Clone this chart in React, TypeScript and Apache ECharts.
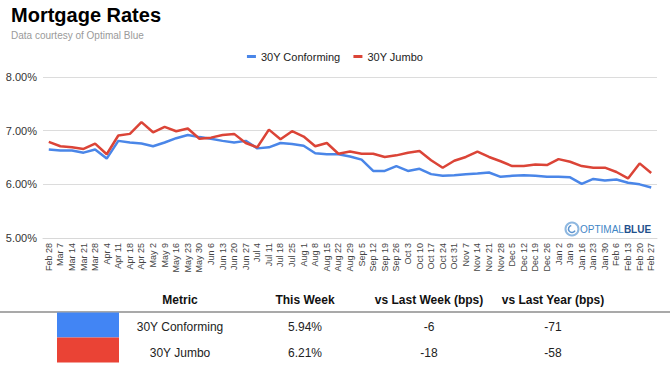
import React, { useEffect, useRef } from "react";
import * as echarts from "echarts";

const categories = [
  "Feb 28", "Mar 7", "Mar 14", "Mar 21", "Mar 28", "Apr 4", "Apr 11", "Apr 18", "Apr 25",
  "May 2", "May 9", "May 16", "May 23", "May 30", "Jun 6", "Jun 13", "Jun 20", "Jun 27",
  "Jul 4", "Jul 11", "Jul 18", "Jul 25", "Aug 1", "Aug 8", "Aug 15", "Aug 22", "Aug 29",
  "Sep 5", "Sep 12", "Sep 19", "Sep 26", "Oct 3", "Oct 10", "Oct 17", "Oct 24", "Oct 31",
  "Nov 7", "Nov 14", "Nov 21", "Nov 28", "Dec 5", "Dec 12", "Dec 19", "Dec 26",
  "Jan 2", "Jan 9", "Jan 16", "Jan 23", "Jan 30", "Feb 6", "Feb 13", "Feb 20", "Feb 27",
];

const conforming = [
  6.65, 6.63, 6.63, 6.59, 6.65, 6.48, 6.81, 6.78, 6.76, 6.71, 6.78, 6.86, 6.92, 6.88,
  6.85, 6.81, 6.78, 6.81, 6.67, 6.69, 6.77, 6.75, 6.72, 6.58, 6.56, 6.56, 6.52, 6.46,
  6.25, 6.25, 6.34, 6.25, 6.29, 6.19, 6.16, 6.17, 6.19, 6.2, 6.22, 6.14, 6.16, 6.17,
  6.16, 6.14, 6.14, 6.13, 6.01, 6.1, 6.07, 6.09, 6.03, 6.0, 5.94,
];

const jumbo = [
  6.79, 6.71, 6.69, 6.66, 6.76, 6.56, 6.91, 6.94, 7.16, 6.97, 7.07, 6.99, 7.04, 6.85,
  6.87, 6.92, 6.94, 6.77, 6.69, 7.02, 6.84, 6.99, 6.89, 6.71, 6.77, 6.57, 6.61, 6.57,
  6.57, 6.51, 6.54, 6.59, 6.62, 6.45, 6.31, 6.44, 6.51, 6.61, 6.51, 6.43, 6.34, 6.34,
  6.37, 6.36, 6.47, 6.42, 6.34, 6.31, 6.31, 6.23, 6.11, 6.39, 6.21,
];

const yTicks = [5, 6, 7, 8];

const tableHeaders = ["Metric", "This Week", "vs Last Week (bps)", "vs Last Year (bps)"];
const tableMetrics = ["30Y Conforming", "30Y Jumbo"];
const tableThisWeek = ["5.94%", "6.21%"];
const tableVsLastWeek = ["-6", "-18"];
const tableVsLastYear = ["-71", "-58"];

const BLUE = "#4a86e8";
const RED = "#db4437";
const SWATCH = ["#4285f4", "#ea4335"];
const FONT = "Liberation Sans, Arial, sans-serif";

export default function App() {
  const ref = useRef<HTMLDivElement>(null);

  useEffect(() => {
    if (!ref.current) return;
    const chart = echarts.init(ref.current, undefined, { renderer: "svg" });

    const colX = [180, 305, 429, 553];
    const graphics: any[] = [];

    tableHeaders.forEach((h, i) => {
      graphics.push({
        type: "text",
        x: colX[i],
        y: 300,
        style: {
          text: h,
          font: `bold 12px ${FONT}`,
          fill: "#111",
          textAlign: "center",
          textVerticalAlign: "middle",
        },
      });
    });
    graphics.push({
      type: "line",
      shape: { x1: 0, y1: 312, x2: 670, y2: 312 },
      style: { stroke: "#8c8c8c", lineWidth: 1.5 },
    });
    tableMetrics.forEach((m, r) => {
      const cy = 327 + r * 25.5;
      graphics.push({
        type: "rect",
        shape: { x: 57, y: 312.5 + r * 25, width: 62, height: 25 },
        style: { fill: SWATCH[r] },
      });
      const cells = [m, tableThisWeek[r], tableVsLastWeek[r], tableVsLastYear[r]];
      cells.forEach((c, i) => {
        graphics.push({
          type: "text",
          x: colX[i],
          y: cy,
          style: {
            text: c,
            font: `12px ${FONT}`,
            fill: "#222",
            textAlign: "center",
            textVerticalAlign: "middle",
          },
        });
      });
    });

    // Optimal Blue logo
    graphics.push({
      type: "circle",
      shape: { cx: 572, cy: 229, r: 6.5 },
      style: { fill: "none", stroke: "#8fb8e0", lineWidth: 2 },
    });
    graphics.push({
      type: "arc",
      shape: { cx: 572, cy: 229, r: 3.5, startAngle: 0.5, endAngle: 4.5 },
      style: { fill: "none", stroke: "#5b93cf", lineWidth: 1.5 },
    });
    graphics.push({
      type: "text",
      x: 580,
      y: 229,
      style: {
        text: "{a|OPTIMAL}{b|BLUE}",
        textVerticalAlign: "middle",
        rich: {
          a: { fontFamily: FONT, fontSize: 10, fill: "#3f86c6", color: "#3f86c6" },
          b: { fontFamily: FONT, fontSize: 10, fontWeight: "bold", fill: "#1f4f8c", color: "#1f4f8c" },
        },
      },
    });

    chart.setOption({
      animation: false,
      backgroundColor: "#ffffff",
      title: {
        text: "Mortgage Rates",
        subtext: "Data courtesy of Optimal Blue",
        left: 6,
        top: 0,
        itemGap: 5,
        textStyle: { fontFamily: FONT, fontSize: 20, fontWeight: "bold", color: "#000" },
        subtextStyle: { fontFamily: FONT, fontSize: 10, color: "#9a9a9a" },
      },
      legend: {
        top: 46,
        left: "center",
        itemWidth: 9,
        itemHeight: 3,
        itemGap: 13,
        icon: "rect",
        textStyle: { fontFamily: FONT, fontSize: 11, color: "#222" },
        data: ["30Y Conforming", "30Y Jumbo"],
      },
      grid: { left: 43, right: 13, top: 77, bottom: 128, containLabel: false },
      xAxis: {
        type: "category",
        data: categories,
        boundaryGap: true,
        axisLine: { show: true, lineStyle: { color: "#d8d8d8" } },
        axisTick: { show: false },
        axisLabel: {
          interval: 0,
          rotate: 90,
          fontFamily: FONT,
          fontSize: 9,
          color: "#444",
          margin: 5,
        },
      },
      yAxis: {
        type: "value",
        min: yTicks[0],
        max: yTicks[yTicks.length - 1],
        interval: 1,
        axisLine: { show: false },
        axisTick: { show: false },
        splitLine: { lineStyle: { color: "#dcdcdc" } },
        axisLabel: {
          fontFamily: FONT,
          fontSize: 11,
          color: "#333",
          margin: 6,
          formatter: (v: number) => v.toFixed(2) + "%",
        },
      },
      series: [
        {
          name: "30Y Conforming",
          type: "line",
          data: conforming,
          showSymbol: false,
          symbol: "none",
          color: BLUE,
          lineStyle: { width: 2.5, color: BLUE },
        },
        {
          name: "30Y Jumbo",
          type: "line",
          data: jumbo,
          showSymbol: false,
          symbol: "none",
          color: RED,
          lineStyle: { width: 2.5, color: RED },
        },
      ],
      graphic: graphics,
    });

    return () => chart.dispose();
  }, []);

  return (
    <div
      ref={ref}
      style={{ position: "absolute", left: 0, top: 0, width: 670, height: 366 }}
    />
  );
}
